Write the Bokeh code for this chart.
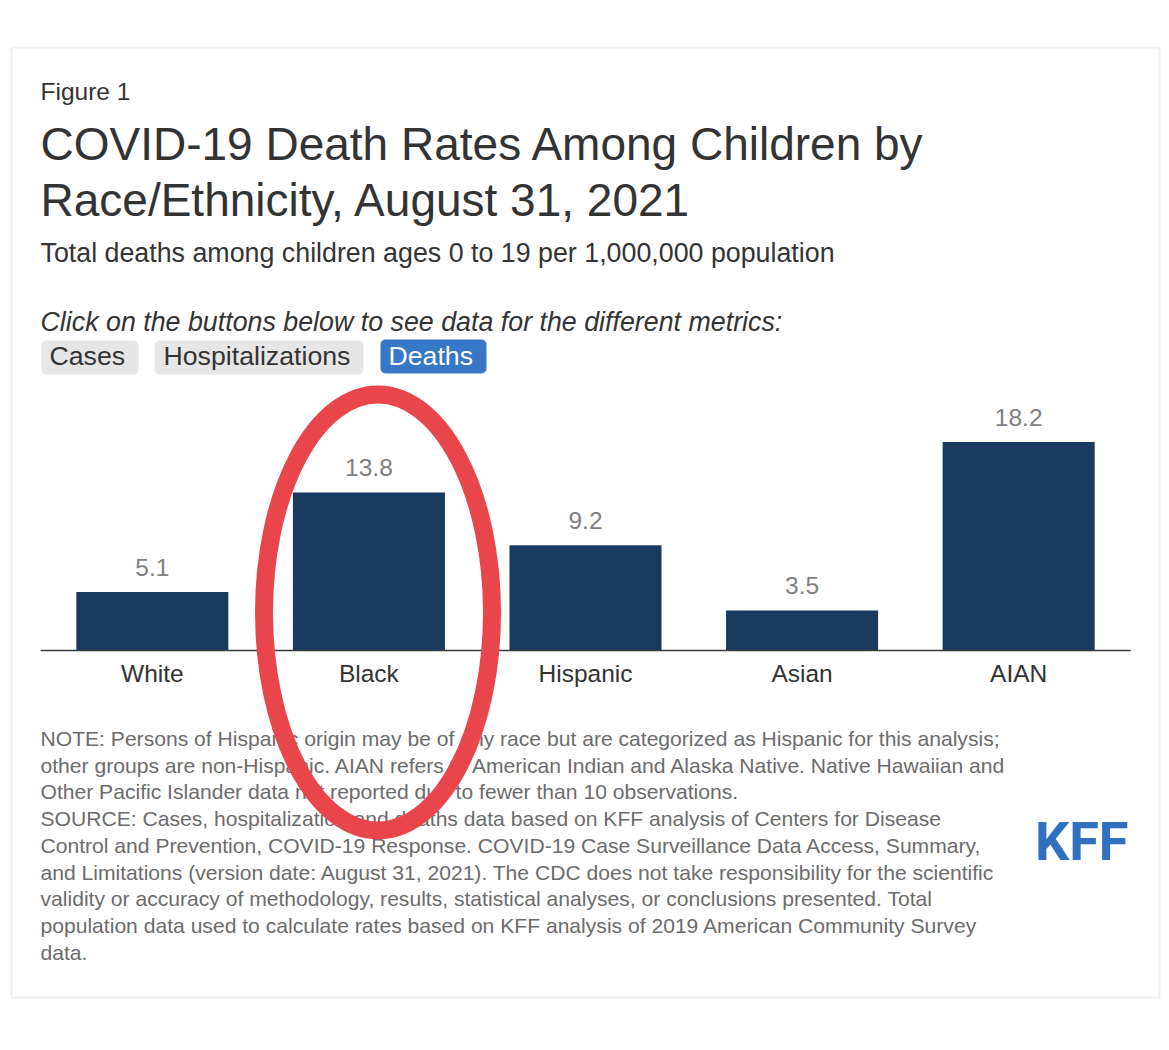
from bokeh.plotting import figure
from bokeh.models import FactorRange, Range1d, Label, BoxAnnotation, ColumnDataSource
from bokeh.embed import file_html
from bokeh.resources import INLINE
from bokeh.core.properties import value

# ---------------- data ----------------
categories = ["White", "Black", "Hispanic", "Asian", "AIAN"]
death_rates = [5.1, 13.8, 9.2, 3.5, 18.2]
value_labels = [f"{v:.1f}" for v in death_rates]
button_labels = ["Cases", "Hospitalizations", "Deaths"]
active_button = "Deaths"
highlight_category = "Black"

fig_label = "Figure 1"
title_lines = ["COVID-19 Death Rates Among Children by",
               "Race/Ethnicity, August 31, 2021"]
subtitle = "Total deaths among children ages 0 to 19 per 1,000,000 population"
instruction = "Click on the buttons below to see data for the different metrics:"
note_lines = [
    "NOTE: Persons of Hispanic origin may be of any race but are categorized as Hispanic for this analysis;",
    "other groups are non-Hispanic. AIAN refers to American Indian and Alaska Native. Native Hawaiian and",
    "Other Pacific Islander data not reported due to fewer than 10 observations.",
    "SOURCE: Cases, hospitalization and deaths data based on KFF analysis of Centers for Disease",
    "Control and Prevention, COVID-19 Response. COVID-19 Case Surveillance Data Access, Summary,",
    "and Limitations (version date: August 31, 2021). The CDC does not take responsibility for the scientific",
    "validity or accuracy of methodology, results, statistical analyses, or conclusions presented. Total",
    "population data used to calculate rates based on KFF analysis of 2019 American Community Survey",
    "data.",
]
logo_text = "KFF"

# ---------------- figure ----------------
W, H = 1161, 1042
FL = 9           # frame left border
FONT = "Liberation Sans"

p = figure(width=W, height=H, output_backend="svg", toolbar_location=None,
           x_range=FactorRange(factors=categories, range_padding=0.1595,
                               range_padding_units="absolute"),
           y_range=Range1d(-34.24, 56.77),
           x_axis_location=None, y_axis_location=None,
           min_border=0, min_border_left=FL,
           outline_line_color=None, background_fill_color="white",
           border_fill_color="white")
p.grid.visible = False

src = ColumnDataSource(dict(cat=categories, val=death_rates, lab=value_labels))

def sx(x):           # image x -> frame screen x
    return x - FL

def sy(y, size=0.0):  # image baseline y -> frame screen y (with baseline correction)
    return H - y + 0.38 * size

# card border
p.add_layout(BoxAnnotation(left=sx(11), right=sx(1159), bottom=H - 997, top=H - 47,
                           left_units="screen", right_units="screen",
                           top_units="screen", bottom_units="screen",
                           fill_color=None, line_color="#cbcbcb", line_width=2))

# bars
p.vbar(x="cat", top="val", bottom=0, width=0.702, source=src,
       fill_color="#173a5e", line_color=None)

# baseline
p.segment(x0=[(categories[0], -0.515)], y0=[0], x1=[(categories[-1], 0.517)], y1=[0],
          line_color="#3a3a3a", line_width=1.6)

# value labels
p.text(x="cat", y="val", text="lab", source=src, y_offset=-25,
       text_align="center", text_baseline="alphabetic",
       text_font=value(FONT), text_font_size="24.5px", text_color="#7f7f7f")

# category labels
p.text(x="cat", y=0, text="cat", source=src, y_offset=23,
       text_align="center", text_baseline="alphabetic",
       text_font=value(FONT), text_font_size="24.5px", text_color="#333333")

def lab(text, x, y, size, color="#333333", style="normal", align="left", font=FONT):
    p.add_layout(Label(x=sx(x), y=sy(y, size), x_units="screen", y_units="screen",
                       text=text, text_font=font, text_font_size=f"{size}px",
                       text_color=color, text_font_style=style, text_align=align,
                       text_baseline="alphabetic"))

# header texts
lab(fig_label, 40, 100.7, 24.5)
lab(title_lines[0], 40, 161, 46)
lab(title_lines[1], 40, 216.7, 46)
lab(subtitle, 40, 263, 26.8)
lab(instruction, 40, 331.7, 26.8, style="italic")

# buttons
btn_boxes = [(41, 138, 340, 374), (154, 363, 340, 374), (380, 486, 339, 373)]
btn_text_x = [49, 163, 388]
for name, (l, r, t, b), tx in zip(button_labels, btn_boxes, btn_text_x):
    active = name == active_button
    p.add_layout(BoxAnnotation(left=sx(l), right=sx(r), bottom=H - b, top=H - t,
                               left_units="screen", right_units="screen",
                               top_units="screen", bottom_units="screen",
                               fill_color="#3677c6" if active else "#e6e6e6",
                               fill_alpha=1, line_color=None, border_radius=5))
    lab(name, tx, 366, 26.7, color="white" if active else "#333333")

# notes
for i, line in enumerate(note_lines):
    lab(line, 40, 746 + i * 26.75, 21.1, color="#6b6b6b")

# logo
lab(logo_text, 1128, 862, 54, color="#2f70c0", style="bold", align="right",
    font="Roboto")

# highlight ellipse around the highlighted category
ell = p.ellipse(x=[(highlight_category, 0.042)], y=[3.32], width=228, height=436,
                width_units="screen", height_units="screen",
                fill_color=None, line_color="#e8464b", line_width=18)
ell.level = "overlay"

open("out.html", "w").write(file_html(p, INLINE))
